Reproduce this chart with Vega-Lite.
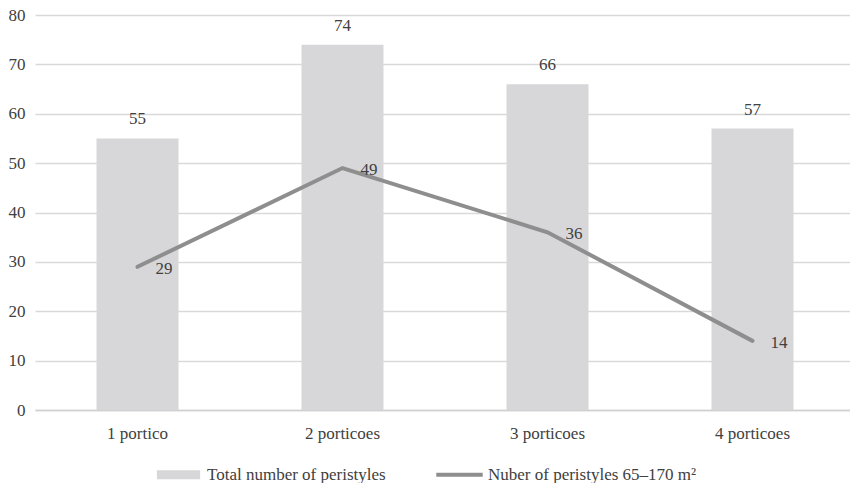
{
  "$schema": "https://vega.github.io/schema/vega-lite/v6.json",
  "autosize": "none",
  "width": 820,
  "height": 395,
  "padding": {"left": 35, "top": 15, "right": 0, "bottom": 73},
  "background": "white",
  "config": {
    "view": {"stroke": null},
    "font": "Liberation Serif",
    "axis": {"labelFont": "Liberation Serif", "labelFontSize": 17, "labelColor": "#404040", "ticks": false},
    "legend": {"labelFont": "Liberation Serif", "labelFontSize": 17, "labelColor": "#404040"}
  },
  "data": {
    "values": [
      {"category": "1 portico", "total": 55, "medium": 29},
      {"category": "2 porticoes", "total": 74, "medium": 49},
      {"category": "3 porticoes", "total": 66, "medium": 36},
      {"category": "4 porticoes", "total": 57, "medium": 14}
    ]
  },
  "encoding": {
    "x": {
      "field": "category",
      "type": "nominal",
      "sort": null,
      "title": null,
      "scale": {"paddingInner": 0.6, "paddingOuter": 0.3},
      "axis": {"labelAngle": 0, "labelPadding": 15, "labelFontSize": 17, "domainColor": "#d0d0d0", "domainWidth": 1.5, "grid": false}
    },
    "y": {
      "field": "total",
      "type": "quantitative",
      "title": null,
      "scale": {"domain": [0, 80]},
      "axis": {"values": [0, 10, 20, 30, 40, 50, 60, 70, 80], "labelFontSize": 17, "labelOverlap": false, "domain": false, "gridColor": "#d9d9d9", "gridWidth": 1.5, "labelPadding": 10}
    }
  },
  "layer": [
    {
      "mark": {"type": "bar"},
      "encoding": {
        "color": {
          "datum": "Total number of peristyles",
          "type": "nominal",
          "scale": {
            "domain": ["Total number of peristyles", "Nuber of peristyles 65–170 m²"],
            "range": ["#d7d7d9", "#8e8e8e"]
          },
          "legend": {
            "title": null,
            "orient": "none",
            "legendX": 135,
            "legendY": 451,
            "direction": "horizontal",
            "gridAlign": "all",
            "symbolSize": 256,
            "labelOffset": 20,
            "labelFontSize": 17,
            "labelLimit": 400,
            "columnPadding": 20,
            "encode": {
              "symbols": {
                "update": {
                  "shape": {"signal": "datum.value === 'Total number of peristyles' ? 'M-2.7,-0.55H2.7V0.55H-2.7Z' : 'M-2.9,-0.25H2.9V0.25H-2.9Z'"},
                  "fill": {"signal": "datum.value === 'Total number of peristyles' ? '#d7d7d9' : '#8e8e8e'"},
                  "strokeWidth": {"value": 0}
                }
              }
            }
          }
        }
      }
    },
    {
      "mark": {"type": "text", "dy": -19, "fontSize": 17, "color": "#404040"},
      "encoding": {
        "text": {"field": "total"}
      }
    },
    {
      "mark": {"type": "line", "strokeWidth": 4, "strokeCap": "round"},
      "encoding": {
        "y": {"field": "medium", "type": "quantitative"},
        "color": {"datum": "Nuber of peristyles 65–170 m²", "type": "nominal"}
      }
    },
    {
      "mark": {"type": "text", "align": "left", "dx": 18, "dy": 2, "fontSize": 17, "color": "#404040"},
      "encoding": {
        "y": {"field": "medium", "type": "quantitative"},
        "text": {"field": "medium"}
      }
    }
  ]
}
